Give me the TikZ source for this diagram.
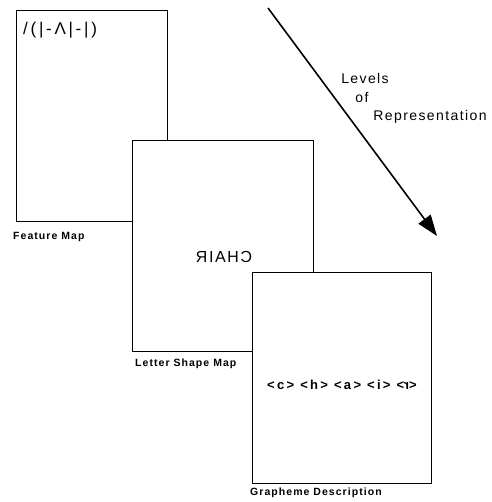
\documentclass[tikz,border=0pt]{standalone}
\usepackage{fontspec}
\setmainfont{Liberation Sans}[LetterSpace=10]
\usetikzlibrary{arrows.meta}
\begin{document}
\begin{tikzpicture}[x=1pt,y=-1pt,
  sheet/.style={draw,line width=1.4pt,fill=white,anchor=north west,inner sep=0pt,minimum height=211pt},
  lab/.style={anchor=west,inner sep=0pt,font=\fontsize{10.5}{12}\selectfont\bfseries\addfontfeatures{LetterSpace=10}},
  big/.style={inner sep=0pt,font=\fontsize{14}{16}\selectfont}]
\useasboundingbox (0,0) rectangle (491,502);
\node[sheet,minimum width=151pt] (b1) at (16,10) {};
\node[sheet,minimum width=181pt] (b2) at (132,140) {};
\node[sheet,minimum width=179pt] (b3) at (252,272) {};
\node[anchor=west,inner sep=0pt,font=\fontsize{17}{18}\selectfont\addfontfeatures{LetterSpace=16}] (t1) at (23,30) {/(|-Λ|-|)};
\node[inner sep=0pt,font=\fontsize{16}{18}\selectfont] (t2) at (224,257) {\scalebox{-1}[1]{CHAIR}};
\node[inner sep=0pt,font=\fontsize{13}{14}\selectfont\bfseries\addfontfeatures{LetterSpace=18}] (t3) at (342,385) {<c> <h> <a> <i> <\scalebox{-1}[1]{r}>};
\node[lab] (l1) at (13,237) {Feature Map};
\node[lab] (l2) at (135,364) {Letter Shape Map};
\node[lab] (l3) at (250,493) {Grapheme Description};
\node[big] (lv) at (365,78) {Levels};
\node[big] (of) at (362,98) {of};
\node[big] (rp) at (430,117) {Representation};
\coordinate (as) at (268,8);
\coordinate (ae) at (437,236);
\draw[line width=1.6pt,-{Triangle[length=21pt,width=15pt]}] (as) -- (ae);
\end{tikzpicture}
\end{document}
